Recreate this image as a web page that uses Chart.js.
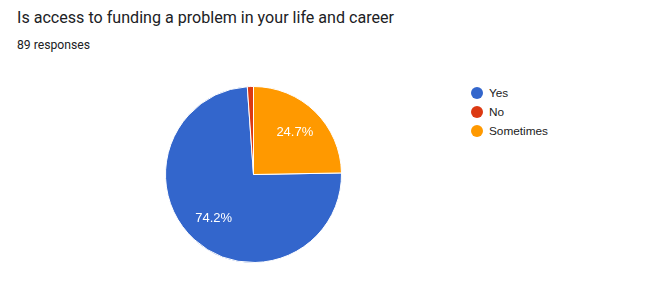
<!DOCTYPE html>
<html>
<head>
    <title>Funding access</title>
    <script src="https://cdn.jsdelivr.net/npm/chart.js"></script>
    <style>
        body { margin: 0; background: #fff; font-family: Roboto, Arial, sans-serif; }
        #title { position: absolute; left: 17px; top: 8px; font-size: 16.1px; color: #202124; white-space: nowrap; }
        #sub { position: absolute; left: 17px; top: 38px; font-size: 12.2px; color: #202124; }
        #wrap { position: absolute; left: 160px; top: 81px; width: 187px; height: 187px; }
        #legend { position: absolute; left: 471px; top: 84px; font-family: Arial, "Liberation Sans", sans-serif; font-size: 11.8px; color: #222; }
        .item { height: 18.7px; display: flex; align-items: center; }
        .dot { width: 12px; height: 12px; border-radius: 50%; margin-right: 6px; }
    </style>
</head>
<body>
    <div id="title">Is access to funding a problem in your life and career</div>
    <div id="sub">89 responses</div>
    <div id="wrap"><canvas id="pie" width="187" height="187"></canvas></div>
    <div id="legend"></div>

    <script>
        const answers = ['Yes', 'No', 'Sometimes'];
        const counts = [66, 1, 22];
        const colors = ['#3366cc', '#dc3912', '#ff9900'];

        const total = counts.reduce((a, b) => a + b, 0);

        // percent labels inside the big slices, like google forms
        const sliceLabels = {
            id: 'sliceLabels',
            afterDatasetsDraw(chart) {
                const ctx = chart.ctx;
                const meta = chart.getDatasetMeta(0);
                ctx.save();
                ctx.fillStyle = '#fff';
                ctx.font = '13px Arial, "Liberation Sans", sans-serif';
                ctx.textAlign = 'center';
                ctx.textBaseline = 'middle';
                meta.data.forEach((arc, i) => {
                    const pct = counts[i] / total * 100;
                    if (pct < 5) return;
                    const mid = (arc.startAngle + arc.endAngle) / 2;
                    const r = arc.outerRadius * 0.67;
                    ctx.fillText(pct.toFixed(1) + '%', arc.x + Math.cos(mid) * r, arc.y + Math.sin(mid) * r);
                });
                ctx.restore();
            }
        };

        new Chart(document.getElementById('pie'), {
            type: 'pie',
            data: {
                labels: answers,
                datasets: [{
                    data: counts,
                    backgroundColor: colors,
                    borderColor: '#fff',
                    borderWidth: 1
                }]
            },
            options: {
                responsive: false,
                animation: false,
                rotation: 360 * counts[2] / total,
                layout: { padding: 5 },
                plugins: { legend: { display: false }, tooltip: { enabled: false } }
            },
            plugins: [sliceLabels]
        });

        const legend = document.getElementById('legend');
        answers.forEach((a, i) => {
            const row = document.createElement('div');
            row.className = 'item';
            row.innerHTML = '<span class="dot" style="background:' + colors[i] + '"></span>' + a;
            legend.appendChild(row);
        });
    </script>
</body>
</html>
